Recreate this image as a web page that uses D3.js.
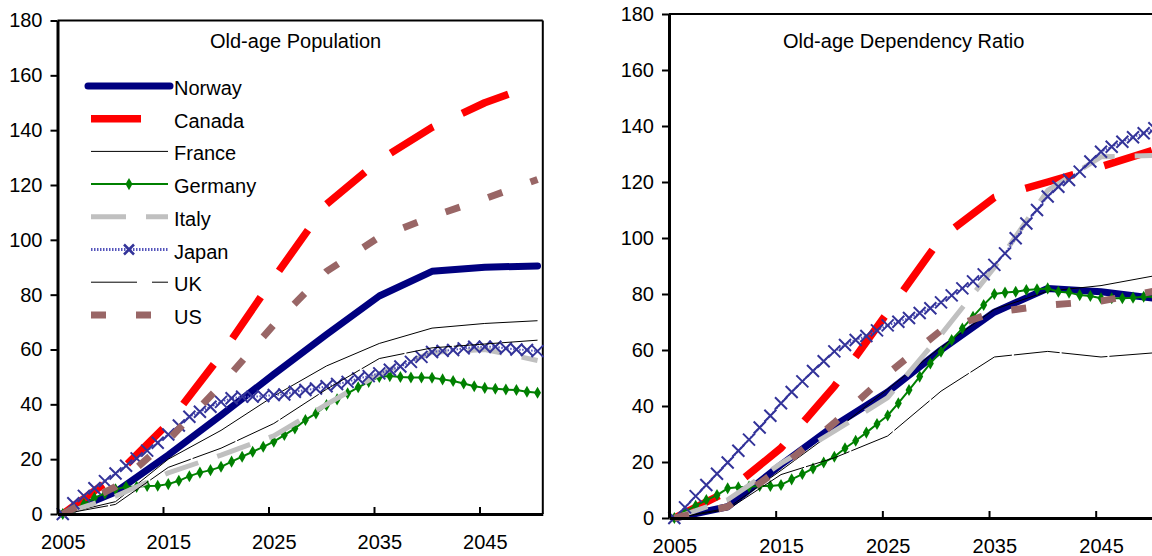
<!DOCTYPE html>
<html><head><meta charset="utf-8">
<script src="https://cdn.jsdelivr.net/npm/d3@7"></script>
<style>
body{margin:0;background:#fff;}
svg{display:block;font-family:"Liberation Sans",Arial,sans-serif;}
</style></head>
<body><svg id="chart" width="1152" height="556"></svg>
<script>
// ---------------- DATA ----------------
const countries = ["Norway","Canada","France","Germany","Italy","Japan","UK","US"];
const years5 = [2005,2010,2015,2020,2025,2030,2035,2040,2045,2050];
const yearsAnnual = d3.range(2005, 2051);
const xLabelYears = [2005,2015,2025,2035,2045];
const yTicks = [0,20,40,60,80,100,120,140,160,180];
const panelTitles = ["Old-age Population","Old-age Dependency Ratio"];

// Left panel: Old-age Population (index, 2005 = 0)
const popNorway = [0, 8, 21.5, 36, 51, 65.5, 79.5, 88.5, 90, 90.5];
const popCanada = [0, 14, 33, 58, 86, 113, 129, 141, 150, 157];
const popFrance = [0, 4.5, 20, 30.5, 43, 54, 62.2, 67.8, 69.5, 70.5];
const popItaly  = [0, 6.5, 15, 21.5, 28.5, 40, 51, 59, 60, 56];
const popUK     = [0, 3.5, 17, 24, 33, 45.5, 56.7, 60.6, 62, 63.4];
const popUS     = [0, 10, 27, 47, 69, 88.5, 101, 108.5, 115, 122];
const popGermany = [0,1.5,3.6,5.9,7.5, 9.0,9.9,9.9,10.2,10.3, 10.9,12.1,13.8,15.1,16.0,
  17.2,19.1,20.9,22.7,24.5, 26.4,28.8,31.2,34.3,36.7, 39.7,41.8,44.0,46.2,48.2,
  50.0,50.3,50.0,49.8,49.8, 49.7,49.1,48.5,47.6,46.6, 46.0,45.7,45.4,45.2,44.6, 44.2];
const popJapan = [0,3.9,6.6,9.4,12.0, 14.8,17.6,20.3,23.1,26.0, 29.0,32.3,35.5,37.3,39.1,
  40.9,42.2,42.8,42.8,43.0, 43.4,43.6,44.6,45.2,45.8, 46.6,47.4,48.2,49.4,50.3,
  51.3,52.6,53.8,55.5,57.3, 59.1,59.5,59.8,60.4,61.0, 61.0,61.0,60.4,60.0,59.8, 59.4];

// Right panel: Old-age Dependency Ratio (index, 2005 = 0)
const depNorway = [0, 4, 19, 33, 45, 60, 73.5, 82, 80.8, 78.5];
const depCanada = [0, 9.5, 25, 47, 73.5, 100, 114.5, 120, 125.5, 131.5];
const depFrance = [0, 3.5, 17, 31, 46, 61, 74.5, 81, 83, 86.5];
const depItaly  = [0, 6.5, 19.5, 31, 43, 65.5, 89.5, 117, 129, 129.5];
const depUK     = [0, 3, 15.5, 21.5, 29.3, 45.3, 57.5, 59.5, 57.5, 59];
const depUS     = [0, 4, 18, 34, 51.5, 67, 73.5, 76, 77.5, 81];
const depGermany = [0,2.3,4.4,6.4,8.2, 10.6,11.0,11.2,11.4,11.4, 11.8,13.8,15.7,17.7,19.8,
  21.9,24.9,27.6,30.5,33.6, 36.6,41.0,45.7,50.5,55.2, 59.4,63.6,67.7,71.9,76.1,
  80.0,80.5,80.8,81.4,81.7, 82.0,80.8,80.5,79.6,79.3, 78.5,78.5,78.5,78.7,79.0, 79.0];
const depJapan = [0,3.8,7.8,11.8,15.8, 19.8,24.0,28.0,32.3,36.5, 41.0,45.0,48.8,52.5,56.0,
  59.5,61.8,63.6,65.0,67.0, 68.8,70.1,71.4,73.2,74.9, 77.0,79.5,82.0,84.5,87.0,
  90.4,94.5,99.9,105.2,110.0, 114.8,118.3,120.7,123.7,127.3, 130.8,132.6,134.4,136.0,137.4, 139.2];

// ---------------- STYLES ----------------
const styles = {
  Norway:  {color:"#000080", width:7,   dash:null,    cap:"round"},
  Canada:  {color:"#ff0000", width:7.5, dash:"50,32", cap:"butt"},
  France:  {color:"#000000", width:1,   dash:null,    cap:"butt"},
  Germany: {color:"#008000", width:2,   dash:null,    cap:"butt", marker:"diamond"},
  Italy:   {color:"#c0c0c0", width:5,   dash:"35,20", cap:"butt"},
  Japan:   {color:"#5555bb", width:2,   dash:"1.5,1.5", cap:"butt", marker:"x", markerColor:"#333399",
            legendWidth:3},
  UK:      {color:"#000000", width:1,   dash:"46,2",  cap:"butt", legendDash:"46,15"},
  US:      {color:"#996666", width:7,   dash:"15,30", cap:"butt"}
};

const panels = [
  {x0:57.5, x1:542.8, yTop:20.5, yBot:514, titleX:210, titleY:48, legend:true,
   series:{Norway:[years5,popNorway],Canada:[years5,popCanada],France:[years5,popFrance],
     Germany:[yearsAnnual,popGermany],Italy:[years5,popItaly],Japan:[yearsAnnual,popJapan],
     UK:[years5,popUK],US:[years5,popUS]}},
  {x0:669, x1:1159.7, yTop:14, yBot:518, titleX:783, titleY:48, legend:false,
   series:{Norway:[years5,depNorway],Canada:[years5,depCanada],France:[years5,depFrance],
     Germany:[yearsAnnual,depGermany],Italy:[years5,depItaly],Japan:[yearsAnnual,depJapan],
     UK:[years5,depUK],US:[years5,depUS]}}
];

const svg = d3.select("#chart");
const xMarker = "M-6,-6L6,6M-6,6L6,-6";
const diamond = d3.symbol(d3.symbolDiamond, 42);

panels.forEach((p, pi) => {
  const x = d3.scaleLinear().domain([2004.5, 2050.5]).range([p.x0, p.x1]);
  const y = d3.scaleLinear().domain([0, 180]).range([p.yBot, p.yTop]);
  const g = svg.append("g");

  // frame (top/right thinner)
  g.append("line").attr("x1",p.x0).attr("x2",p.x1).attr("y1",p.yTop).attr("y2",p.yTop)
    .attr("stroke","#000").attr("stroke-width",2);
  g.append("line").attr("x1",p.x1).attr("x2",p.x1).attr("y1",p.yTop).attr("y2",p.yBot)
    .attr("stroke","#000").attr("stroke-width",2);

  // series
  countries.forEach(c => {
    const st = styles[c];
    const [xs, vs] = p.series[c];
    const pts = xs.map((yr,i)=>[yr, vs[i]]);
    const line = d3.line().x(d=>x(d[0])).y(d=>y(d[1]));
    g.append("path").attr("d", line(pts)).attr("fill","none")
      .attr("stroke", st.color).attr("stroke-width", st.width)
      .attr("stroke-dasharray", st.dash).attr("stroke-linecap", st.cap)
      .attr("stroke-linejoin","round");
    if (st.marker === "diamond") {
      g.selectAll(null).data(pts).enter().append("path")
        .attr("d", diamond).attr("transform", d=>`translate(${x(d[0])},${y(d[1])})`)
        .attr("fill", st.color);
    } else if (st.marker === "x") {
      g.selectAll(null).data(pts).enter().append("path")
        .attr("d", xMarker).attr("transform", d=>`translate(${x(d[0])},${y(d[1])})`)
        .attr("fill","none").attr("stroke", st.markerColor).attr("stroke-width", 2);
    }
  });

  // y axis
  const ya = d3.axisLeft(y).tickValues(yTicks).tickSize(7).tickSizeOuter(0).tickPadding(8);
  const yg = g.append("g").attr("transform",`translate(${p.x0},0)`).call(ya);
  yg.select(".domain").attr("stroke-width",3);
  yg.selectAll(".tick line").attr("stroke-width",2);
  yg.selectAll("text").attr("font-size",20).attr("fill","#000")
    .attr("font-family","Liberation Sans, Arial, sans-serif");

  // x axis: ticks at category boundaries, inward
  const xa = d3.axisBottom(x).tickValues(xLabelYears.map(v=>v-0.5)).tickSize(-7)
    .tickSizeOuter(0).tickFormat("");
  const xg = g.append("g").attr("transform",`translate(0,${p.yBot})`).call(xa);
  xg.select(".domain").attr("stroke-width",3);
  xg.selectAll(".tick line").attr("stroke-width",2);
  // labels centred on categories
  const xl = d3.axisBottom(x).tickValues(xLabelYears).tickSize(0).tickPadding(21)
    .tickFormat(d3.format("d"));
  const xlg = g.append("g").attr("transform",`translate(0,${p.yBot})`).call(xl);
  xlg.select(".domain").remove();
  xlg.selectAll("text").attr("font-size",20).attr("fill","#000")
    .attr("font-family","Liberation Sans, Arial, sans-serif");

  // title
  g.append("text").attr("x",p.titleX).attr("y",p.titleY).attr("font-size",20)
    .attr("fill","#000").text(panelTitles[pi]);

  // legend
  if (p.legend) {
    const lg = g.append("g");
    countries.forEach((c,i) => {
      const st = styles[c];
      const cy = 88 + i*32.7;
      const ly = cy - 2;
      const lx0 = c === "Norway" ? 88 : 91, lx1 = c === "Norway" ? 170 : 168;
      lg.append("line").attr("x1",lx0).attr("x2",lx1).attr("y1",ly).attr("y2",ly)
        .attr("stroke", st.color).attr("stroke-width", st.legendWidth || st.width)
        .attr("stroke-dasharray", st.legendDash || st.dash)
        .attr("stroke-linecap", st.cap);
      if (st.marker === "diamond") {
        lg.append("path").attr("d", diamond).attr("transform",`translate(129,${ly})`).attr("fill",st.color);
      } else if (st.marker === "x") {
        lg.append("path").attr("d","M-5,-5L5,5M-5,5L5,-5").attr("transform",`translate(129,${ly})`)
          .attr("stroke",st.markerColor).attr("stroke-width",2.5).attr("fill","none");
      }
      lg.append("text").attr("x",174).attr("y",cy).attr("dy","0.35em")
        .attr("font-size",20).attr("fill","#000").text(c);
    });
  }
});
</script></body></html>
